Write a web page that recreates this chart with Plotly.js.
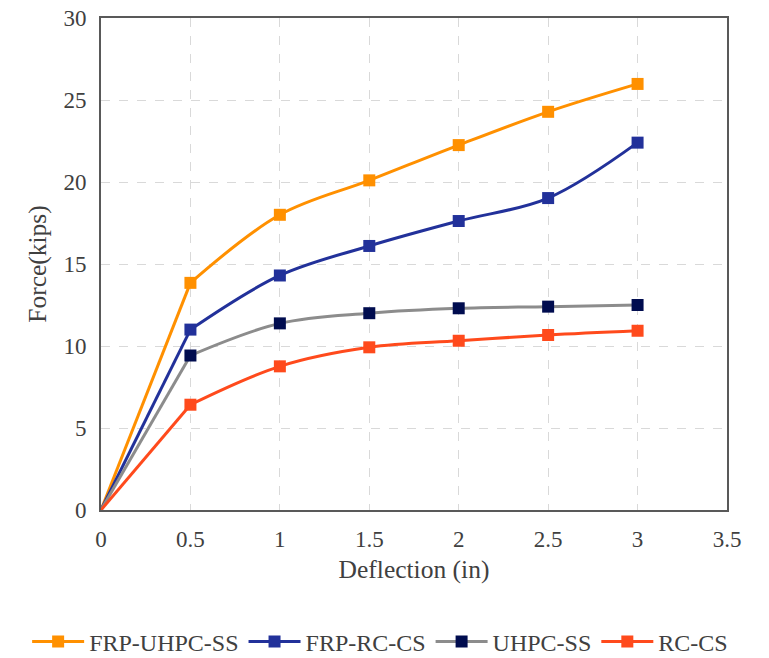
<!DOCTYPE html>
<html>
<head>
<meta charset="utf-8">
<script src="https://cdn.plot.ly/plotly-3.0.1.min.js"></script>
<style>html,body{margin:0;padding:0;background:#fff;}#chart{width:769px;height:658px;}</style>
</head>
<body>
<div id="chart"></div>
<script>
const deflection = [0, 0.5, 1, 1.5, 2, 2.5, 3];
const seriesNames = ["FRP-UHPC-SS", "FRP-RC-CS", "UHPC-SS", "RC-CS"];
const frpUhpcSS = [0, 13.85, 18.0, 20.1, 22.25, 24.28, 25.98];
const frpRcCS = [0, 11.0, 14.3, 16.1, 17.62, 19.02, 22.4];
const uhpcSS = [0, 9.42, 11.38, 12.0, 12.3, 12.4, 12.5];
const rcCS = [0, 6.42, 8.76, 9.92, 10.32, 10.67, 10.93];
const lineColors = ["#FF9000", "#22319A", "#8C8C8C", "#FF4A1C"];
const markerColors = ["#FF9000", "#22319A", "#000C4F", "#FF4A1C"];
const values = [frpUhpcSS, frpRcCS, uhpcSS, rcCS];

const traces = [];
values.forEach((v, i) => {
  // initial elastic segment (straight, no marker at origin)
  traces.push({
    x: deflection.slice(0, 2), y: v.slice(0, 2), type: 'scatter', mode: 'lines',
    showlegend: false, hoverinfo: 'skip', legendgroup: seriesNames[i],
    line: {color: lineColors[i], width: 3}
  });
  traces.push({
    x: deflection.slice(1), y: v.slice(1), name: seriesNames[i], type: 'scatter', mode: 'lines+markers',
    legendgroup: seriesNames[i],
    line: {color: lineColors[i], width: 3, shape: 'spline', smoothing: 1},
    marker: {symbol: 'square', size: 12, color: markerColors[i]}
  });
});

const fam = '"Liberation Serif"';
const tickFont = {family: fam, size: 23, color: '#404040'};
const titleFont = {family: fam, size: 25.5, color: '#404040'};
const legendFont = {family: fam, size: 24, color: '#404040'};
const layout = {
  width: 769, height: 658,
  margin: {l: 101, r: 42, t: 18, b: 148, autoexpand: false},
  paper_bgcolor: '#fff', plot_bgcolor: '#fff',
  font: tickFont,
  showlegend: true,
  legend: {orientation: 'h', x: -0.118, xanchor: 'left', y: -0.268, yanchor: 'middle', font: legendFont, itemwidth: 52, traceorder: 'normal', tracegroupgap: 0},
  xaxis: {
    range: [0, 3.5], dtick: 0.5, tick0: 0,
    showgrid: true, gridcolor: '#D9D9D9', griddash: 'dash', gridwidth: 1.3,
    showline: true, linecolor: '#595959', linewidth: 2, mirror: true,
    ticks: 'outside', ticklen: 7, tickcolor: 'rgba(0,0,0,0)',
    zeroline: false, tickfont: tickFont,
    title: {text: 'Deflection (in)', font: titleFont, standoff: 10}
  },
  yaxis: {
    range: [0, 30], dtick: 5, tick0: 0,
    showgrid: true, gridcolor: '#D9D9D9', griddash: 'dash', gridwidth: 1.3,
    showline: true, linecolor: '#595959', linewidth: 2, mirror: true,
    ticks: 'outside', ticklen: 8, tickcolor: 'rgba(0,0,0,0)',
    zeroline: false, tickfont: tickFont,
    title: {text: 'Force(kips)', font: titleFont, standoff: 9}
  }
};
Plotly.newPlot('chart', traces, layout, {displayModeBar: false});
</script>
</body>
</html>
